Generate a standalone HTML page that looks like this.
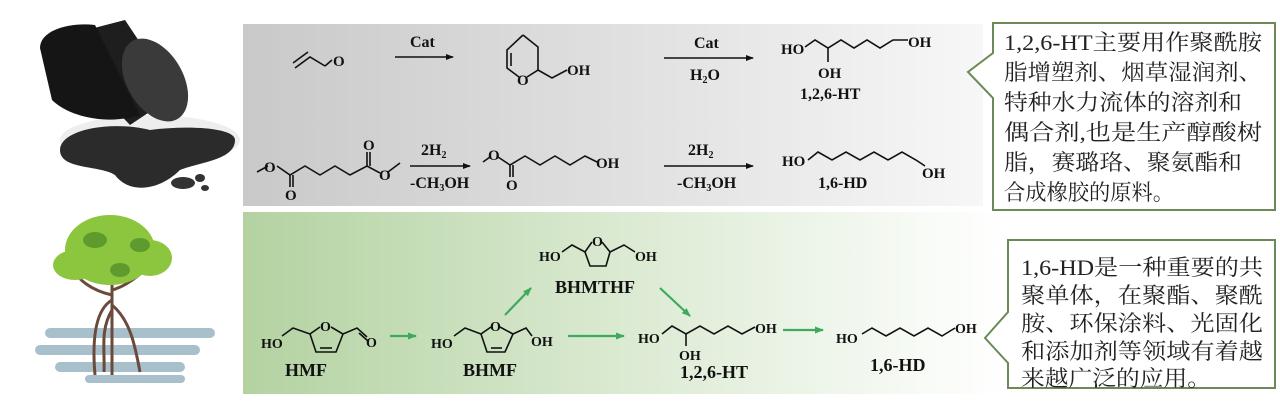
<!DOCTYPE html>
<html><head><meta charset="utf-8"><style>
html,body{margin:0;padding:0;background:#fff;}
body{width:1280px;height:403px;overflow:hidden;position:relative;font-family:"Liberation Serif","Noto Serif CJK SC",serif;}
svg{position:absolute;left:0;top:0;}
.cn{font-family:"Liberation Serif","Noto Serif CJK SC",serif;font-size:22px;fill:#222;}
.b{font-family:"Liberation Serif",serif;font-weight:bold;fill:#111;}
</style></head><body>
<svg width="1280" height="403" viewBox="0 0 1280 403">
<defs>
<linearGradient id="gg" x1="0" x2="1" y1="0" y2="0"><stop offset="0" stop-color="#c9c9c9"/><stop offset="0.6" stop-color="#e4e4e4"/><stop offset="1" stop-color="#f7f7f7"/></linearGradient>
<linearGradient id="gr" x1="0" x2="1" y1="0" y2="0"><stop offset="0" stop-color="#b3d2a1"/><stop offset="0.5" stop-color="#dbead2"/><stop offset="1" stop-color="#ffffff"/></linearGradient>
<marker id="ab" markerWidth="8" markerHeight="8" refX="7" refY="4" orient="auto" markerUnits="userSpaceOnUse"><path d="M0,1 L8,4 L0,7 z" fill="#111"/></marker>
<marker id="ag" markerWidth="9" markerHeight="9" refX="8" refY="4.5" orient="auto" markerUnits="userSpaceOnUse"><path d="M0,1 L9,4.5 L0,8 z" fill="#3daa5c"/></marker>
</defs>
<rect x="243" y="24" width="740" height="182" fill="url(#gg)"/>
<rect x="243" y="212" width="760" height="182" fill="url(#gr)"/>
<!-- oil barrel -->
<ellipse cx="150" cy="140" rx="90" ry="25" fill="#eee"/>
<path d="M60,150 C60,130 110,120 150,130 C190,125 235,128 235,140 C235,160 200,162 180,170 C160,190 130,195 115,175 C100,165 60,170 60,150z" fill="#2b2b2b"/>
<ellipse cx="183" cy="183" rx="12" ry="6" fill="#333"/><ellipse cx="200" cy="178" rx="5" ry="4" fill="#333"/><ellipse cx="205" cy="188" rx="4" ry="3" fill="#333"/>
<path d="M48,40 L125,20 L175,95 L130,125 z" fill="#1e1e1e"/>
<ellipse cx="155" cy="80" rx="28" ry="45" transform="rotate(-30 155 80)" fill="#3a3a3a"/>
<path d="M40,48 C40,30 70,22 95,25 L140,115 C110,125 70,118 52,100 z" fill="#151515"/>
<!-- tree -->
<g fill="#a8bfcc"><rect x="45" y="328" width="170" height="10" rx="5"/><rect x="35" y="345" width="165" height="10" rx="5"/><rect x="55" y="362" width="130" height="10" rx="5"/><rect x="85" y="375" width="100" height="8" rx="4"/></g>
<g stroke="#6b4a3c" stroke-width="3" fill="none"><path d="M112,285 L112,375"/><path d="M112,300 C95,310 92,340 95,375"/><path d="M112,305 C130,320 135,345 140,372"/><path d="M112,295 C90,290 80,280 72,270"/><path d="M112,290 C130,285 145,270 150,265"/><path d="M112,310 C100,330 105,350 104,372"/></g>
<g fill="#8cc63f"><ellipse cx="110" cy="250" rx="45" ry="35"/><ellipse cx="75" cy="265" rx="22" ry="15"/><ellipse cx="150" cy="258" rx="22" ry="18"/></g>
<g fill="#5e9a2e"><ellipse cx="95" cy="240" rx="12" ry="8"/><ellipse cx="140" cy="245" rx="10" ry="7"/><ellipse cx="120" cy="270" rx="10" ry="7"/></g>
<!-- callouts -->
<path d="M993,23 H1275 V210 H993 V98 L968,72 L993,53 Z" fill="#fff" stroke="#6b8a55" stroke-width="2"/>
<path d="M1008,240 H1275 V388 H1008 V363 L985,338 L1008,312 Z" fill="#fff" stroke="#6b8a55" stroke-width="2"/>
<g class="cn">
<text x="1004" y="50" textLength="258" lengthAdjust="spacingAndGlyphs">1,2,6-HT主要用作聚酰胺</text>
<text x="1004" y="80" textLength="258" lengthAdjust="spacingAndGlyphs">脂增塑剂、烟草湿润剂、</text>
<text x="1004" y="110" textLength="238" lengthAdjust="spacingAndGlyphs">特种水力流体的溶剂和</text>
<text x="1004" y="140" textLength="258" lengthAdjust="spacingAndGlyphs">偶合剂,也是生产醇酸树</text>
<text x="1004" y="170" textLength="238" lengthAdjust="spacingAndGlyphs">脂，赛璐珞、聚氨酯和</text>
<text x="1004" y="200" textLength="170" lengthAdjust="spacingAndGlyphs">合成橡胶的原料。</text>
<text x="1021" y="275" textLength="242" lengthAdjust="spacingAndGlyphs">1,6-HD是一种重要的共</text>
<text x="1021" y="303" textLength="242" lengthAdjust="spacingAndGlyphs">聚单体，在聚酯、聚酰</text>
<text x="1021" y="331" textLength="242" lengthAdjust="spacingAndGlyphs">胺、环保涂料、光固化</text>
<text x="1021" y="359" textLength="242" lengthAdjust="spacingAndGlyphs">和添加剂等领域有着越</text>
<text x="1021" y="386" textLength="190" lengthAdjust="spacingAndGlyphs">来越广泛的应用。</text>
</g>
<!-- top row chemistry -->
<g stroke="#111" stroke-width="1.6" fill="none">
<path d="M295,68 L310,57 L325,66"/><path d="M293,63 L308,52"/><path d="M325,66 L332,60"/>
<line x1="395" y1="57" x2="453" y2="57" marker-end="url(#ab)"/>
<path d="M523,35 L538,47 L538,70 L527,77 M519,77 L507,68 L507,50 L523,35"/><path d="M511,53 L511,66"/>
<path d="M538,70 L552,78 L567,70"/>
<line x1="664" y1="58" x2="753" y2="58" marker-end="url(#ab)"/>
<path d="M805,47 L815,40 L828,48 L841,40 L854,48 L867,40 L880,48 L893,40 L908,40"/><path d="M828,48 L828,62"/>
<path d="M257,172 L268,166 M277,166 L290,175 L305,166 L320,175 L335,166 L350,175 L367,166 L380,173 M388,172 L400,163"/>
<path d="M290,175 L290,187 M293,175 L293,187"/><path d="M367,166 L367,152 M370,166 L370,152"/>
<line x1="410" y1="166" x2="470" y2="166" marker-end="url(#ab)"/>
<path d="M483,162 L490,157 M498,157 L510,165 L525,156 L540,165 L555,156 L570,165 L585,156 L597,162"/><path d="M510,165 L510,177 M513,165 L513,177"/>
<line x1="664" y1="166" x2="753" y2="166" marker-end="url(#ab)"/>
<path d="M808,160 L818,152 L832,160 L846,152 L860,160 L874,152 L888,160 L902,152 L916,160 L925,166"/>
</g>
<g class="b" font-size="15">
<text x="333" y="66">O</text>
<text x="410" y="47" font-size="16">Cat</text>
<text x="517" y="85">O</text><text x="567" y="75">OH</text>
<text x="694" y="48" font-size="16">Cat</text><text x="690" y="80" font-size="16">H<tspan font-size="10" dy="3">2</tspan><tspan dy="-3">O</tspan></text>
<text x="781" y="54">HO</text><text x="908" y="47">OH</text><text x="818" y="78">OH</text><text x="800" y="99" font-size="16">1,2,6-HT</text>
<text x="264" y="172">O</text><text x="285" y="200">O</text><text x="363" y="150">O</text><text x="379" y="180">O</text>
<text x="421" y="155" font-size="16">2H<tspan font-size="10" dy="3">2</tspan></text><text x="410" y="188" font-size="16">-CH<tspan font-size="10" dy="3">3</tspan><tspan dy="-3">OH</tspan></text>
<text x="488" y="160">O</text><text x="506" y="190">O</text><text x="596" y="168">OH</text>
<text x="688" y="155" font-size="16">2H<tspan font-size="10" dy="3">2</tspan></text><text x="677" y="188" font-size="16">-CH<tspan font-size="10" dy="3">3</tspan><tspan dy="-3">OH</tspan></text>
<text x="782" y="166">HO</text><text x="922" y="178">OH</text><text x="818" y="188" font-size="16">1,6-HD</text>
</g>
<!-- bottom row chemistry -->
<g stroke="#111" stroke-width="1.6" fill="none">
<path d="M282,336 L293,328 L310,334"/><path d="M320,327 L310,334 L316,352 L336,352 L343,334 L331,327"/><path d="M320,348 L332,348"/><path d="M343,334 L357,328 L367,337"/><path d="M359,333 L368,341"/>
<path d="M454,336 L465,328 L481,334"/><path d="M491,327 L481,334 L487,352 L505,352 L513,334 L500,327"/><path d="M491,348 L502,348"/><path d="M513,334 L526,328 L532,336"/>
<path d="M562,252 L572,245 L585,252 L592,242 M602,242 L610,252 L624,245 L635,252"/><path d="M585,252 L590,266 L606,266 L610,252"/>
<path d="M662,334 L672,326 L686,334 L700,326 L714,334 L728,326 L742,334 L755,327"/><path d="M686,334 L686,346"/>
<path d="M862,334 L872,328 L886,336 L900,328 L914,336 L928,328 L942,336 L955,328"/>
</g>
<g stroke="#3daa5c" stroke-width="2.2" fill="none">
<line x1="390" y1="336" x2="416" y2="336" marker-end="url(#ag)"/>
<line x1="505" y1="315" x2="531" y2="288" marker-end="url(#ag)"/>
<line x1="660" y1="288" x2="690" y2="316" marker-end="url(#ag)"/>
<line x1="568" y1="336" x2="624" y2="336" marker-end="url(#ag)"/>
<line x1="783" y1="330" x2="823" y2="330" marker-end="url(#ag)"/>
</g>
<g class="b" font-size="14">
<text x="261" y="348">HO</text><text x="320" y="331">O</text><text x="366" y="347">O</text>
<text x="285" y="376" font-size="18">HMF</text>
<text x="431" y="348">HO</text><text x="490" y="331">O</text><text x="531" y="346">OH</text>
<text x="463" y="376" font-size="18">BHMF</text>
<text x="539" y="261">HO</text><text x="592" y="246">O</text><text x="635" y="261">OH</text>
<text x="555" y="293" font-size="18">BHMTHF</text>
<text x="638" y="343">HO</text><text x="755" y="333">OH</text><text x="679" y="360">OH</text>
<text x="680" y="378" font-size="18">1,2,6-HT</text>
<text x="836" y="343">HO</text><text x="955" y="333">OH</text>
<text x="870" y="371" font-size="18">1,6-HD</text>
</g>
</svg>
</body></html>
